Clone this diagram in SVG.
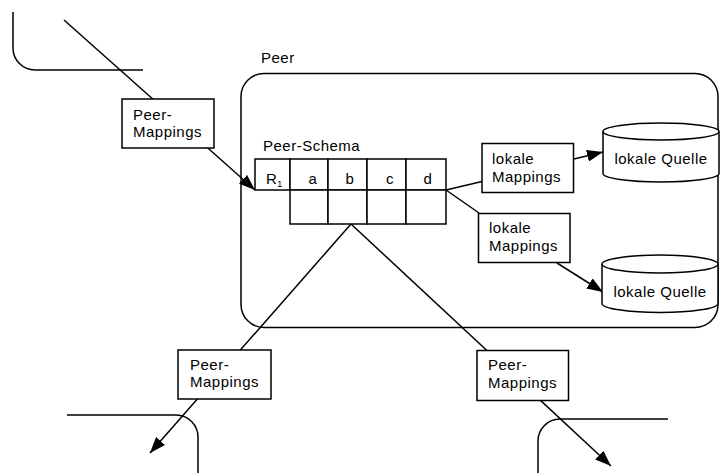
<svg xmlns="http://www.w3.org/2000/svg" width="720" height="473" viewBox="0 0 720 473">
  <style>
    .ln { fill: none; stroke: #000; stroke-width: 1.5; }
    .box { fill: #fff; stroke: #000; stroke-width: 1.5; }
    .txt { font-family: "Liberation Sans", Arial, sans-serif; font-size: 15px; letter-spacing: 0.5px; fill: #000; }
    .mid { text-anchor: middle; }
  </style>
  <defs>
    <marker id="arrow" viewBox="0 0 16 12" refX="16" refY="6" markerWidth="16" markerHeight="12" markerUnits="userSpaceOnUse" orient="auto">
      <path d="M0,0 L16,6 L0,12 z" fill="#000"/>
    </marker>
  </defs>

  <rect width="720" height="473" fill="#fff"/>

  <!-- neighbouring peers (partially visible) -->
  <g id="peer-top-left">
    <path class="ln" d="M13,12 V48 A22,22 0 0 0 35,70 H143"/>
  </g>
  <g id="peer-bottom-left">
    <path class="ln" d="M67,415 H176 A22,22 0 0 1 198,437 V473"/>
  </g>
  <g id="peer-bottom-right">
    <path class="ln" d="M668,419 H560 A22,22 0 0 0 538,441 V473"/>
  </g>

  <!-- main peer -->
  <g id="peer">
    <rect class="ln" x="241" y="73.5" width="477" height="254" rx="23" ry="23"/>
    <text class="txt" x="261" y="63">Peer</text>
  </g>

  <!-- connectors -->
  <g id="connectors">
    <line class="ln" x1="64" y1="20" x2="255" y2="190" marker-end="url(#arrow)"/>
    <line class="ln" x1="351" y1="224" x2="150" y2="453" marker-end="url(#arrow)"/>
    <line class="ln" x1="351" y1="224" x2="611" y2="466" marker-end="url(#arrow)"/>
    <line class="ln" x1="446" y1="190" x2="482" y2="181.5"/>
    <line class="ln" x1="446" y1="190" x2="479" y2="213"/>
    <line class="ln" x1="574" y1="159" x2="603" y2="152" marker-end="url(#arrow)"/>
    <line class="ln" x1="557" y1="263" x2="603" y2="292" marker-end="url(#arrow)"/>
  </g>

  <!-- peer mappings -->
  <g id="pm-top">
    <rect class="box" x="122" y="99" width="92" height="49"/>
    <text class="txt" x="133" y="120">Peer-</text>
    <text class="txt" x="133" y="137">Mappings</text>
  </g>
  <g id="pm-left">
    <rect class="box" x="178" y="350" width="93" height="49"/>
    <text class="txt" x="190" y="370">Peer-</text>
    <text class="txt" x="190" y="387">Mappings</text>
  </g>
  <g id="pm-right">
    <rect class="box" x="477" y="350.5" width="91.5" height="50"/>
    <text class="txt" x="488" y="370">Peer-</text>
    <text class="txt" x="488" y="388">Mappings</text>
  </g>

  <!-- peer schema table -->
  <g id="schema">
    <text class="txt" x="263" y="150.5">Peer-Schema</text>
    <rect class="box" x="255" y="159" width="35" height="31"/>
    <rect class="box" x="290" y="159" width="38" height="31"/>
    <rect class="box" x="328" y="159" width="39" height="31"/>
    <rect class="box" x="367" y="159" width="39" height="31"/>
    <rect class="box" x="406" y="159" width="40" height="31"/>
    <rect class="box" x="290" y="190" width="38" height="34"/>
    <rect class="box" x="328" y="190" width="39" height="34"/>
    <rect class="box" x="367" y="190" width="39" height="34"/>
    <rect class="box" x="406" y="190" width="40" height="34"/>
    <text class="txt" x="266" y="184">R<tspan font-size="9" dy="3">1</tspan></text>
    <text class="txt mid" x="313" y="184">a</text>
    <text class="txt mid" x="350" y="184">b</text>
    <text class="txt mid" x="390" y="184">c</text>
    <text class="txt mid" x="428" y="184">d</text>
  </g>

  <!-- local mappings -->
  <g id="lm-1">
    <rect class="box" x="482" y="143.5" width="91.5" height="49"/>
    <text class="txt" x="492" y="164">lokale</text>
    <text class="txt" x="492" y="182">Mappings</text>
  </g>
  <g id="lm-2">
    <rect class="box" x="478.5" y="213.5" width="91.5" height="49"/>
    <text class="txt" x="489" y="233">lokale</text>
    <text class="txt" x="489" y="251">Mappings</text>
  </g>

  <!-- local sources -->
  <g id="source-1">
    <path class="box" d="M603,131.5 V173.5 A58,8.5 0 0 0 719,173.5 V131.5"/>
    <ellipse class="box" cx="661" cy="131.5" rx="58" ry="8.5"/>
    <text class="txt mid" x="661" y="164">lokale Quelle</text>
  </g>
  <g id="source-2">
    <path class="box" d="M602,264 V303.5 A58,9 0 0 0 718,303.5 V264"/>
    <ellipse class="box" cx="660" cy="264" rx="58" ry="9"/>
    <text class="txt mid" x="660" y="297">lokale Quelle</text>
  </g>
</svg>
